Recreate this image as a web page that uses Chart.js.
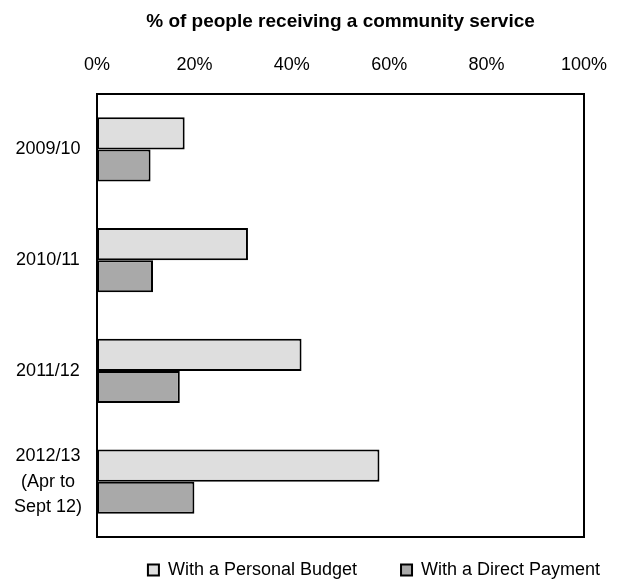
<!DOCTYPE html>
<html>
<head>
<meta charset="utf-8">
<script src="https://cdn.jsdelivr.net/npm/chart.js@4/dist/chart.umd.min.js"></script>
<style>
  html, body { margin: 0; padding: 0; background: #fff; overflow: hidden; }
  #wrap { width: 621px; height: 584px; overflow: hidden; }
  canvas { display: block; }
</style>
</head>
<body>
<div id="wrap"><canvas id="c" width="621" height="584"></canvas></div>
<script>
// ---- data ----
const categories = ['2009/10', '2010/11', '2011/12', ['2012/13', '(Apr to', 'Sept 12)']];
const seriesNames = ['With a Personal Budget', 'With a Direct Payment'];
const personalBudget = [18, 31, 42, 58];
const directPayment = [11, 11.5, 17, 20];
const tickValues = [0, 20, 40, 60, 80, 100];
const chartTitle = '% of people receiving a community service';

Chart.defaults.font.family = '"Liberation Sans", Arial, sans-serif';
Chart.defaults.color = '#000';

const frame = {
  id: 'frame',
  afterDatasetsDraw(chart) {
    const a = chart.chartArea, c = chart.ctx;
    c.save();
    c.strokeStyle = '#000';
    c.lineWidth = 2;
    c.strokeRect(a.left, a.top, a.right - a.left, a.bottom - a.top);
    c.restore();
  }
};

const legendPlace = {
  id: 'legendPlace',
  afterInit(chart) {
    const lg = chart.legend;
    if (!lg) return;
    const fit = lg.fit.bind(lg);
    lg.fit = function () { fit(); this.height = 47; };
    lg.draw = function () {
      if (!this.options.display) return;
      const c = this.ctx; c.save(); c.translate(82, -20); this._draw(); c.restore();
    };
  }
};

new Chart(document.getElementById('c'), {
  type: 'bar',
  data: {
    labels: categories,
    datasets: [
      { label: seriesNames[0], data: personalBudget, backgroundColor: '#dedede', borderColor: '#000', borderWidth: 2, borderSkipped: false },
      { label: seriesNames[1], data: directPayment, backgroundColor: '#a9a9a9', borderColor: '#000', borderWidth: 2, borderSkipped: false }
    ]
  },
  options: {
    indexAxis: 'y',
    responsive: false,
    animation: false,
    maintainAspectRatio: false,
    layout: { padding: { left: 0, right: 37, top: 0, bottom: 0 } },
    datasets: { bar: { categoryPercentage: 0.58, barPercentage: 1.0 } },
    scales: {
      x: {
        position: 'top',
        min: 0, max: 100,
        afterBuildTicks(s) { s.ticks = tickValues.map(v => ({ value: v })); },
        afterFit(s) { s.height = 52.6; s.paddingLeft = 0; s.paddingRight = 0; },
        grid: { display: false, drawTicks: false },
        border: { display: false },
        ticks: { padding: 18.2, font: { size: 18 }, color: '#000', callback: v => v + '%' }
      },
      y: {
        afterFit(s) { s.width = 97; },
        grid: { display: false, drawTicks: false },
        border: { display: false },
        ticks: { padding: 15, crossAlign: 'center', font: { size: 18, lineHeight: 1.4 }, color: '#000' }
      }
    },
    plugins: {
      title: {
        display: true, text: chartTitle, fullSize: false,
        font: { size: 19, weight: 'bold' }, color: '#000',
        padding: { top: 10.6, bottom: 8 }
      },
      legend: {
        position: 'bottom', fullSize: true,
        labels: { boxWidth: 11, boxHeight: 11, padding: 44, font: { size: 18 }, color: '#000' }
      },
      tooltip: { enabled: false }
    }
  },
  plugins: [frame, legendPlace]
});
</script>
</body>
</html>
